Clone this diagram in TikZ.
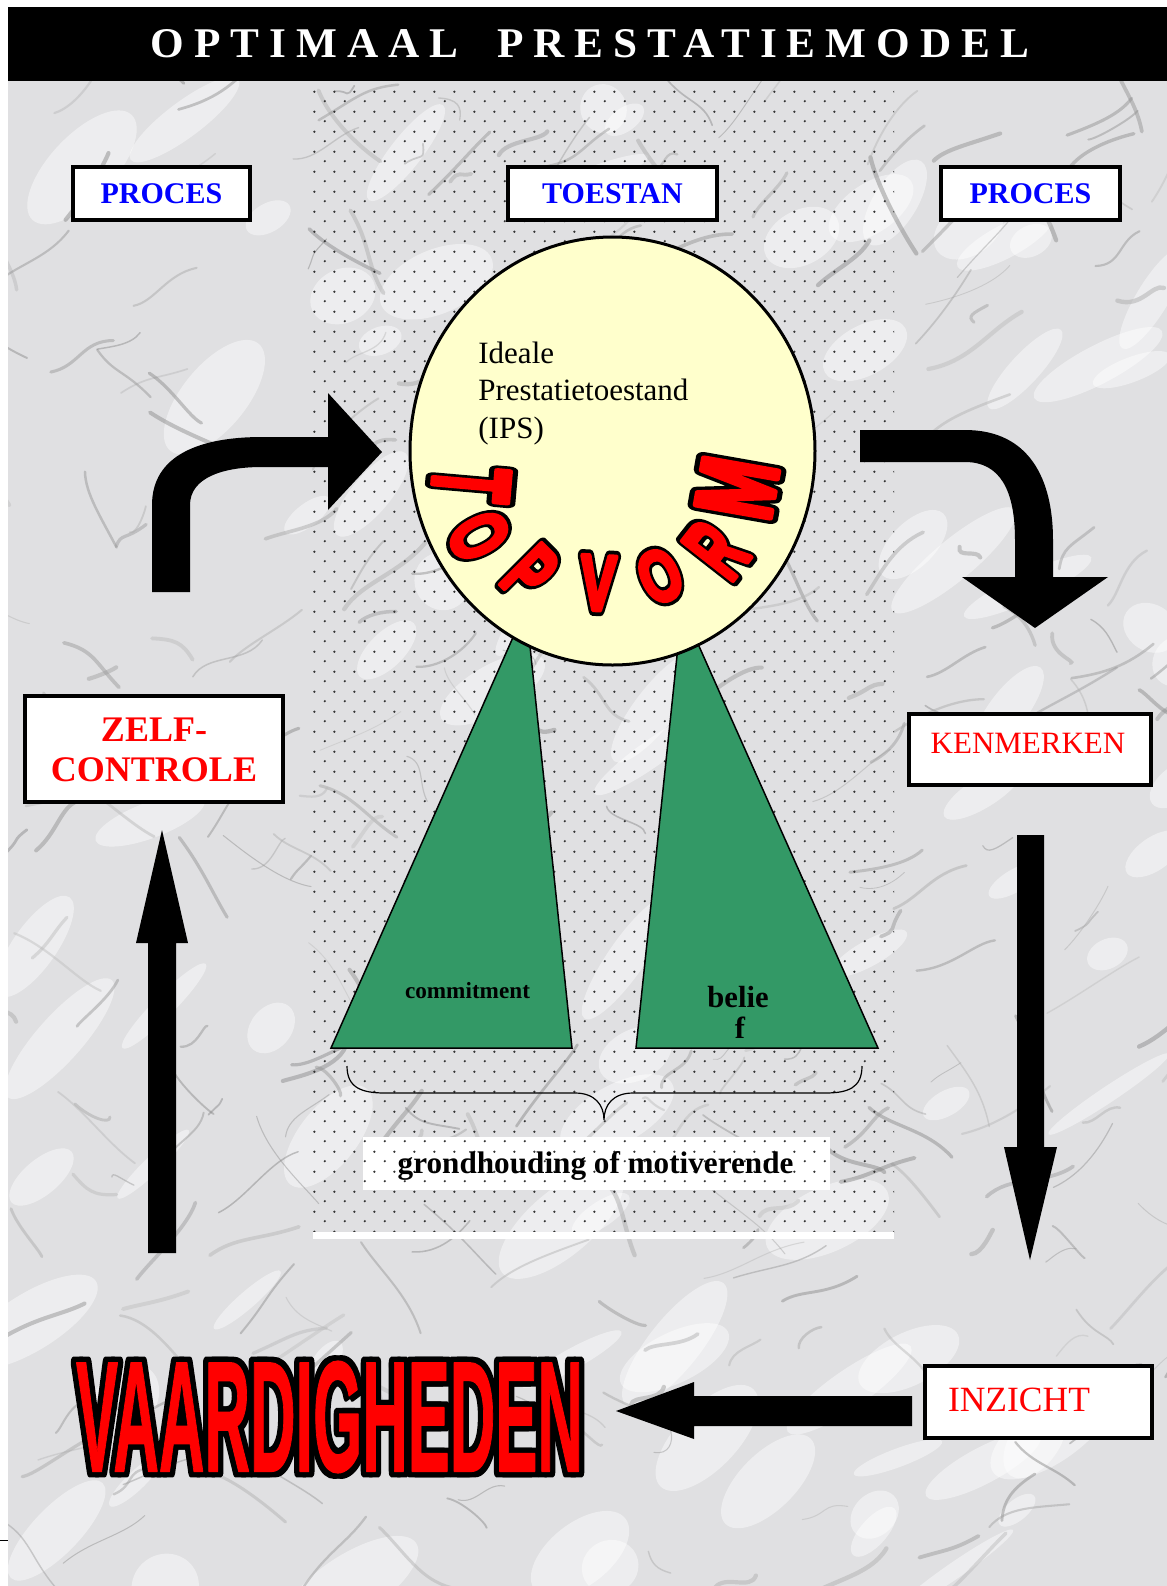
\documentclass[tikz,border=0pt]{standalone}
\usepackage{graphicx}
\usepackage{fontspec}
\setmainfont{Liberation Serif}
\newfontfamily\heavysans{Liberation Sans}
\usetikzlibrary{shapes.geometric, patterns.meta}

\definecolor{procblue}{RGB}{0,0,255}
\definecolor{labelred}{RGB}{255,0,0}
\definecolor{ipsyellow}{RGB}{255,255,204}
\definecolor{trigreen}{RGB}{51,153,102}
\definecolor{marble}{RGB}{224,224,226}

\tikzdeclarepattern{
  name=panel dots,
  type=colored,
  bounding box={(0pt,0pt) and (10pt,10pt)},
  tile size={(10pt,10pt)},
  code={
    \fill[black!80] (2.5pt,2.5pt) circle (0.65pt);
    \fill[black!80] (7.5pt,7.5pt) circle (0.65pt);
  }
}

% glyphs painted with fill and stroke (text render mode 2)
\newcommand\strokeon[2]{\special{pdf:literal direct 2 Tr #1 w 1 j #2 RG}}
\newcommand\strokeoff{\special{pdf:literal direct 0 Tr}}

\tikzset{
  labelbox/.style={draw=black, line width=1.6pt, fill=white, inner sep=0pt, rectangle},
  blockarrow/.style={fill=black},
  wa letter/.style={inner sep=0pt, font=\heavysans\bfseries\fontsize{40pt}{40pt}\selectfont},
  procfont/.style={font=\bfseries\fontsize{15pt}{17pt}\selectfont, text=procblue},
}

% red letter with black rim: name, x, y, rotation, xscale, yscale, letter
\newcommand\wordartletter[7]{%
  \node[wa letter, text=black, rotate=#4, xscale=#5, yscale=#6] (#1rim) at (#2,#3)
    {\strokeon{6.2}{0 0 0}#7\strokeoff};
  \node[wa letter, text=labelred, rotate=#4, xscale=#5, yscale=#6] (#1) at (#2,#3)
    {\strokeon{2.4}{1 0 0}#7\strokeoff};
}

\newcommand\vaatext[1]{\resizebox{253.5pt}{55pt}{\heavysans\bfseries\fontsize{76.8pt}{80pt}\selectfont #1VAARDIGHEDEN\strokeoff}}

\begin{document}
\begin{tikzpicture}[x={(0.5pt,0)}, y={(0,-0.5pt)}]
  \useasboundingbox (0,0) rectangle (1167,1586);
  \fill[white] (0,0) rectangle (1167,1586);

  % marble backdrop
  \begin{scope}
    \clip (8,81) rectangle (1167,1586);
    \fill[marble] (8,81) rectangle (1167,1586);
    \pgfmathsetseed{3141}
    \foreach \k in {1,...,90}{
      \pgfmathsetmacro\mpx{rnd*1180}
      \pgfmathsetmacro\mpy{70+rnd*1530}
      \pgfmathsetmacro\mrx{20+rnd*60}
      \pgfmathsetmacro\mry{8+rnd*25}
      \pgfmathsetmacro\mra{20+rnd*40}
      \fill[white, opacity=0.45, rotate around={\mra:(\mpx,\mpy)}] (\mpx,\mpy) ellipse [x radius=\mrx, y radius=\mry];
    }
    \foreach \k in {1,...,300}{
      \pgfmathsetmacro\mxa{rnd*1200-20}
      \pgfmathsetmacro\mya{70+rnd*1540}
      \pgfmathsetmacro\mvl{20+rnd*90}
      \pgfmathsetmacro\mang{rnd<0.65 ? 15+rnd*45 : 110+rnd*50}
      \pgfmathsetmacro\mxb{\mxa+\mvl*cos(\mang)}
      \pgfmathsetmacro\myb{\mya-\mvl*sin(\mang)}
      \pgfmathsetmacro\mxc{\mxa+0.33*\mvl*cos(\mang)+(rnd-0.5)*25}
      \pgfmathsetmacro\myc{\mya-0.33*\mvl*sin(\mang)+(rnd-0.5)*25}
      \pgfmathsetmacro\mxd{\mxa+0.66*\mvl*cos(\mang)+(rnd-0.5)*25}
      \pgfmathsetmacro\myd{\mya-0.66*\mvl*sin(\mang)+(rnd-0.5)*25}
      \pgfmathsetmacro\mvw{0.4+rnd*1.8}
      \pgfmathtruncatemacro\mvg{25+rnd*25}
      \draw[line width=\mvw pt, draw=black!\mvg, draw opacity=0.45, line cap=round]
        (\mxa,\mya) .. controls (\mxc,\myc) and (\mxd,\myd) .. (\mxb,\myb);
    }
  \end{scope}

  % title bar
  \fill[black] (8,7) rectangle (1167,81);
  \node[text=white, inner sep=0pt] (title) at (590,44)
    {\resizebox{439pt}{14pt}{\bfseries\addfontfeature{LetterSpace=23}OPTIMAAL\hspace{0.9em}PRESTATIEMODEL}};

  % caption plate under the brace, then the dotted centre panel
  \fill[white] (363,1137) rectangle (830,1190);
  \fill[pattern=panel dots] (313,84) rectangle (894,1232);
  \fill[white] (313,1232) rectangle (894,1239);

  % the two green wedges under the ellipse
  \filldraw[fill=trigreen, draw=black, line width=0.75pt] (526,608) -- (331,1048) -- (572,1048) -- cycle;
  \filldraw[fill=trigreen, draw=black, line width=0.75pt] (682,608) -- (636,1048) -- (878,1048) -- cycle;

  % ideal performance state
  \node[draw=black, line width=1.5pt, ellipse, fill=ipsyellow, minimum width=202.5pt,
        minimum height=214pt, inner sep=0pt] (ips) at (612.5,451) {};
  \begin{scope}[every node/.style={anchor=base west, inner sep=0pt, font=\fontsize{15.5pt}{18pt}\selectfont}]
    \node (ipsA) at (478,363) {Ideale};
    \node (ipsB) at (478,400) {Prestatietoestand};
    \node (ipsC) at (478,438) {(IPS)};
  \end{scope}

  \wordartletter{topT}{471}{484}{-95}{0.70}{1.36}{T}
  \wordartletter{topO}{479}{536}{-62}{0.64}{1.01}{O}
  \wordartletter{topP}{530}{573}{-45}{0.64}{1.05}{P}
  \wordartletter{topV}{598}{583}{-3}{0.67}{0.98}{V}
  \wordartletter{topOb}{660}{576}{25}{0.64}{0.91}{O}
  \wordartletter{topR}{716}{550}{52}{0.62}{1.15}{R}
  \wordartletter{topM}{737}{488}{80}{0.87}{1.36}{M}

  % wedge labels
  \node[anchor=base, inner sep=0pt, font=\bfseries\fontsize{11.6pt}{13pt}\selectfont] (commit) at (467.5,998) {commitment};
  \node[anchor=base, inner sep=0pt, font=\bfseries\fontsize{15.3pt}{17pt}\selectfont] (beliefA) at (738,1007) {belie};
  \node[anchor=base, inner sep=0pt, font=\bfseries\fontsize{15.3pt}{17pt}\selectfont] (beliefB) at (740,1038) {f};

  % brace and its caption
  \draw[line width=0.6pt] (347,1066) .. controls (347,1088) and (362,1093) .. (385,1093) -- (575,1093)
    .. controls (595,1093) and (604,1105) .. (604,1120)
    .. controls (604,1105) and (613,1093) .. (633,1093) -- (825,1093)
    .. controls (848,1093) and (862,1088) .. (862,1066);
  \node[anchor=base, inner sep=0pt, font=\bfseries\fontsize{15.6pt}{18pt}\selectfont] (grond) at (595.6,1173) {grondhouding of motiverende};

  % header boxes
  \node[labelbox, procfont, minimum width=88.5pt, minimum height=26.5pt] (procL) at (161.5,193.5) {PROCES};
  \node[labelbox, procfont, minimum width=104.5pt, minimum height=26.5pt] (toestan) at (612.5,193.5) {TOESTAN};
  \node[labelbox, procfont, minimum width=89.5pt, minimum height=26.5pt] (procR) at (1030.5,193.5) {PROCES};

  % cycle boxes
  \node[labelbox, minimum width=129pt, minimum height=53pt] (zelf) at (154,749) {};
  \node[font=\bfseries\fontsize{18pt}{20pt}\selectfont, text=labelred, align=center, inner sep=0pt] (zelftxt) at (154,750) {ZELF-\\CONTROLE};
  \node[labelbox, minimum width=121pt, minimum height=35.5pt] (kenm) at (1030,749.5) {};
  \node[font=\fontsize{15.5pt}{17pt}\selectfont, text=labelred, inner sep=0pt] (kenmtxt) at (1028,743.5) {KENMERKEN};
  \node[labelbox, minimum width=113.5pt, minimum height=36pt] (inzicht) at (1038.5,1402) {};
  \node[font=\fontsize{17.75pt}{19pt}\selectfont, text=labelred, inner sep=0pt] (inzichttxt) at (1019,1399.5) {INZICHT};

  % block arrows of the cycle
  \fill[blockarrow] (152,592) -- (152,505) .. controls (152,455) and (200,437) .. (262,437) -- (328,437)
    -- (328,393) -- (382,452) -- (328,510) -- (328,467) -- (262,467)
    .. controls (222,467) and (190,478) .. (190,505) -- (190,592) -- cycle;
  \fill[blockarrow] (860,430) -- (965,430) .. controls (1030,430) and (1053,480) .. (1053,540) -- (1053,577)
    -- (1108,577) -- (1035,628) -- (962,577) -- (1015,577) -- (1015,540)
    .. controls (1015,490) and (1000,462) .. (965,462) -- (860,462) -- cycle;
  \fill[blockarrow] (1017,835) -- (1044,835) -- (1044,1147) -- (1057,1147) -- (1030,1260) -- (1004,1147) -- (1017,1147) -- cycle;
  \fill[blockarrow] (912,1396) -- (912,1426) -- (694,1426) -- (694,1439) -- (616,1411) -- (694,1382) -- (694,1396) -- cycle;
  \fill[blockarrow] (148,1253) -- (148,943) -- (136,943) -- (162,830) -- (188,943) -- (176,943) -- (176,1253) -- cycle;

  % skills, red on a black rim
  \node[inner sep=0pt, text=black, xshift=-1.6pt] (vaardL) at (329.5,1417) {\vaatext{\strokeon{6}{0 0 0}}};
  \node[inner sep=0pt, text=black, xshift=1.6pt] (vaardR) at (329.5,1417) {\vaatext{\strokeon{6}{0 0 0}}};
  \node[inner sep=0pt, text=labelred] (vaard) at (329.5,1417) {\vaatext{\strokeon{0.8}{1 0 0}}};

  % margin tick
  \draw[line width=0.5pt] (0,1540) -- (8,1540);
\end{tikzpicture}
\end{document}
